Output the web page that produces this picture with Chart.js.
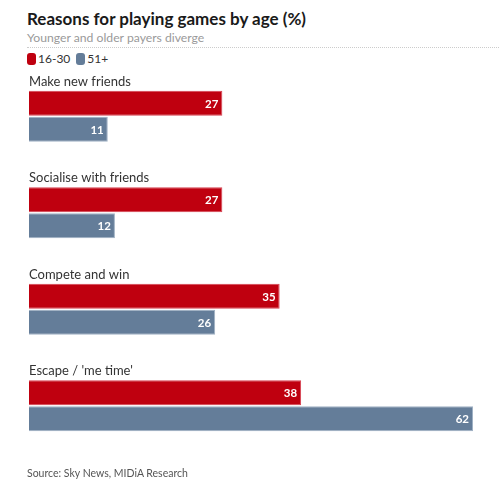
<!DOCTYPE html>
<html>
<head>
<meta charset="utf-8">
<script src="https://cdn.jsdelivr.net/npm/chart.js@4/dist/chart.umd.min.js"></script>
<style>
  html, body { margin: 0; padding: 0; background: #fff; }
  body { width: 499px; height: 500px; position: relative; overflow: hidden; font-family: Lato, sans-serif; }
  #title { position: absolute; left: 27px; top: 8px; font-size: 17px; font-weight: 700; color: #1a1a1a; }
  #sub { position: absolute; left: 27px; top: 30px; font-size: 12.2px; color: #9a9a9a; }
  #rule { position: absolute; left: 27px; right: 0; top: 47px; border-top: 1px dotted #ccc; }
  #legend { position: absolute; left: 27px; top: 51px; font-size: 12px; color: #333; display: flex; align-items: center; }
  #legend span.sw { display: inline-block; width: 9px; height: 12px; border-radius: 3px; margin-right: 2px; }
  #legend span.lb { margin-right: 6px; }
  #source { position: absolute; left: 27px; top: 467px; font-size: 10.5px; color: #555; }
  #chart { position: absolute; left: 0; top: 0; }
</style>
</head>
<body>
<div id="title">Reasons for playing games by age (%)</div>
<div id="sub">Younger and older payers diverge</div>
<div id="rule"></div>
<div id="legend">
  <span class="sw" style="background:#bf000f"></span><span class="lb">16-30</span>
  <span class="sw" style="background:#647d99"></span><span class="lb">51+</span>
</div>
<canvas id="chart" width="499" height="500"></canvas>
<div id="source">Source: Sky News, MIDiA Research</div>
<script>
/* global Chart */

const categories = ['Make new friends', 'Socialise with friends', 'Compete and win', "Escape / 'me time'"]
const young = [27, 27, 35, 38]
const old = [11, 12, 26, 62]
const seriesNames = ['16-30', '51+']

const RED = '#bf000f'
const BLUE = '#647d99'

// category names sit above each pair of bars, values inside the bar ends
const labelsPlugin = {
  id: 'barLabels',
  afterDatasetsDraw (chart) {
    const ctx = chart.ctx
    const left = chart.chartArea.left
    ctx.save()
    ctx.font = '13px Lato, sans-serif'
    ctx.fillStyle = '#333'
    ctx.textAlign = 'left'
    ctx.textBaseline = 'alphabetic'
    chart.getDatasetMeta(0).data.forEach((bar, i) => {
      ctx.fillText(categories[i], left, bar.y - bar.height / 2 - 5)
    })
    ctx.font = 'bold 11.5px Lato, sans-serif'
    ctx.fillStyle = '#fff'
    ctx.textAlign = 'right'
    ctx.textBaseline = 'middle'
    chart.data.datasets.forEach((ds, d) => {
      chart.getDatasetMeta(d).data.forEach((bar, i) => {
        ctx.fillText(ds.data[i], bar.x - 4, bar.y + 1)
      })
    })
    ctx.restore()
  }
}

new Chart(document.getElementById('chart'), {
  type: 'bar',
  data: {
    labels: categories,
    datasets: [
      { label: seriesNames[0], data: young, backgroundColor: RED, borderColor: '#d64050', borderWidth: 1 },
      { label: seriesNames[1], data: old, backgroundColor: BLUE, borderColor: '#9fb1c4', borderWidth: 1 }
    ]
  },
  options: {
    indexAxis: 'y',
    responsive: false,
    animation: false,
    layout: { padding: { left: 29, right: 26, top: 68, bottom: 46 } },
    categoryPercentage: 0.54,
    barPercentage: 0.96,
    scales: {
      x: { display: false, min: 0, max: 62 },
      y: { display: false }
    },
    plugins: {
      legend: { display: false },
      tooltip: { enabled: false }
    }
  },
  plugins: [labelsPlugin]
})
</script>
</body>
</html>
